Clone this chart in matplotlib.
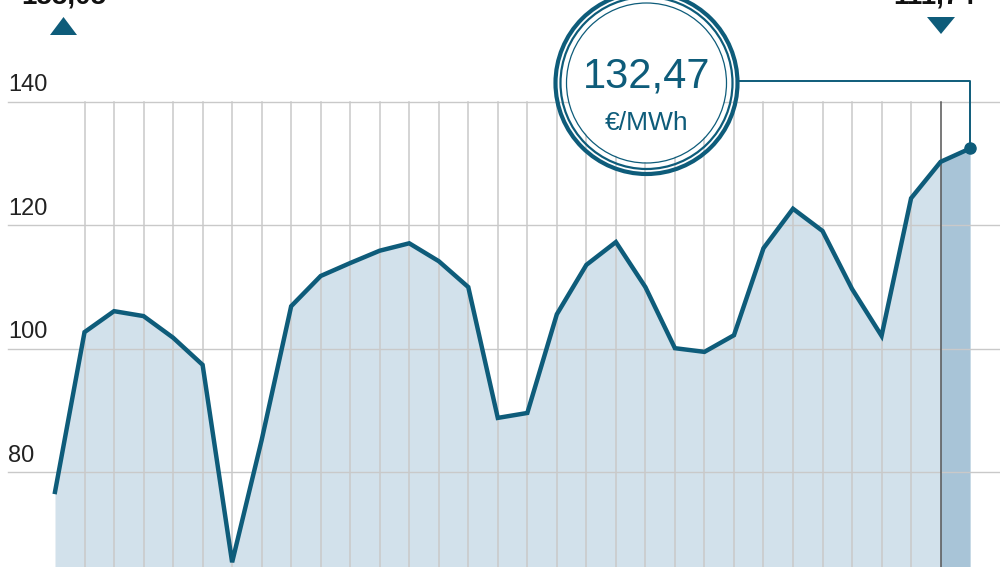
import matplotlib
matplotlib.use('Agg')
import matplotlib.pyplot as plt
from matplotlib.patches import Ellipse, Polygon

# Daily electricity price (EUR/MWh)
prices = [76.8, 102.7, 106.1, 105.3, 101.8, 97.4, 65.4, 85.2, 106.9, 111.8,
          113.9, 115.9, 117.1, 114.2, 110.0, 88.8, 89.6, 105.6, 113.6, 117.3,
          110.0, 100.1, 99.5, 102.2, 116.3, 122.7, 119.1, 109.7, 102.1, 124.4,
          130.3, 132.47]
y_ticks = [80, 100, 120, 140]
last_label = '132,47'
unit_label = '€/MWh'
max_label = '155,05'
min_label = '111,74'

LINE = '#0e5c7a'
FILL = '#d2e1eb'
FILL_LAST = '#a8c4d7'
GRID = '#c9c9c9'

W, H = 1000, 567
fig = plt.figure(figsize=(W / 100, H / 100), dpi=100)
ax = fig.add_axes([0, 0, 1, 1])
ax.set_axis_off()

# pixel layout -> data limits
x0_px, step_px = 55, 29.52
y140_px, px_per_unit = 102, 6.17
ax.set_xlim(-x0_px / step_px, (W - x0_px) / step_px)
ax.set_ylim(140 - (H - y140_px) / px_per_unit, 140 + y140_px / px_per_unit)

def px(x, y):
    # pixel (from top-left) to data coords
    return (x - x0_px) / step_px, 140 - (y - y140_px) / px_per_unit

n = len(prices)
xs = list(range(n))
ymin = ax.get_ylim()[0]

# area fills
ax.fill_between(xs[:-1], prices[:-1], ymin, color=FILL, lw=0, zorder=1)
ax.fill_between(xs[-2:], prices[-2:], ymin, color=FILL_LAST, lw=0, zorder=1)

# grid
xl, _ = px(8, 0)
for t in y_ticks:
    ax.plot([xl, ax.get_xlim()[1]], [t, t], color=GRID, lw=1, zorder=2)
    ax.text(xl, t + 0.9, str(t), fontsize=17, family='Liberation Sans',
            color='#222222', ha='left', va='bottom')
for i in xs[1:-1]:
    c = '#555555' if i == n - 2 else GRID
    ax.plot([i, i], [ymin, max(y_ticks)], color=c, lw=1.1, zorder=2)

# price line
ax.plot(xs, prices, color=LINE, lw=3.2, solid_joinstyle='miter', zorder=4)
ax.plot(xs[-1], prices[-1], 'o', color=LINE, ms=8, zorder=5)

# callout circle with leader line
cx, cy = px(646.5, 83)
for r, lw in [(91, 3.0), (86, 1.6), (80, 0.9)]:
    ax.add_patch(Ellipse((cx, cy), 2 * r / step_px, 2 * r / px_per_unit,
                         fill=False, ec=LINE, lw=lw, zorder=6))
ax.add_patch(Ellipse((cx, cy), 2 * 79 / step_px, 2 * 79 / px_per_unit,
                     fc='white', ec='none', zorder=5))
_, ly = px(0, 81)
ax.plot([cx + 92 / step_px, xs[-1], xs[-1]], [ly, ly, prices[-1]],
        color=LINE, lw=1.4, zorder=3)
ax.text(cx, px(0, 77)[1], last_label, fontsize=30, family='Liberation Sans',
        color=LINE, ha='center', va='center', zorder=7)
ax.text(cx, px(0, 123)[1], unit_label, fontsize=19, family='Liberation Sans',
        color=LINE, ha='center', va='center', zorder=7)

# clipped headline values with arrows
ax.text(px(21, 0)[0], px(0, 4)[1], max_label, fontsize=20, fontweight='bold',
        family='Liberation Sans', color='#111111', ha='left', va='baseline')
ax.text(px(893, 0)[0], px(0, 4)[1], min_label, fontsize=20, fontweight='bold',
        family='Liberation Sans', color='#111111', ha='left', va='baseline')
ax.add_patch(Polygon([px(50, 35), px(77, 35), px(63.5, 17)], closed=True,
                     fc=LINE, ec='none'))
ax.add_patch(Polygon([px(927, 17), px(955, 17), px(941, 34)], closed=True,
                     fc=LINE, ec='none'))

fig.savefig('out.png', dpi=100)
